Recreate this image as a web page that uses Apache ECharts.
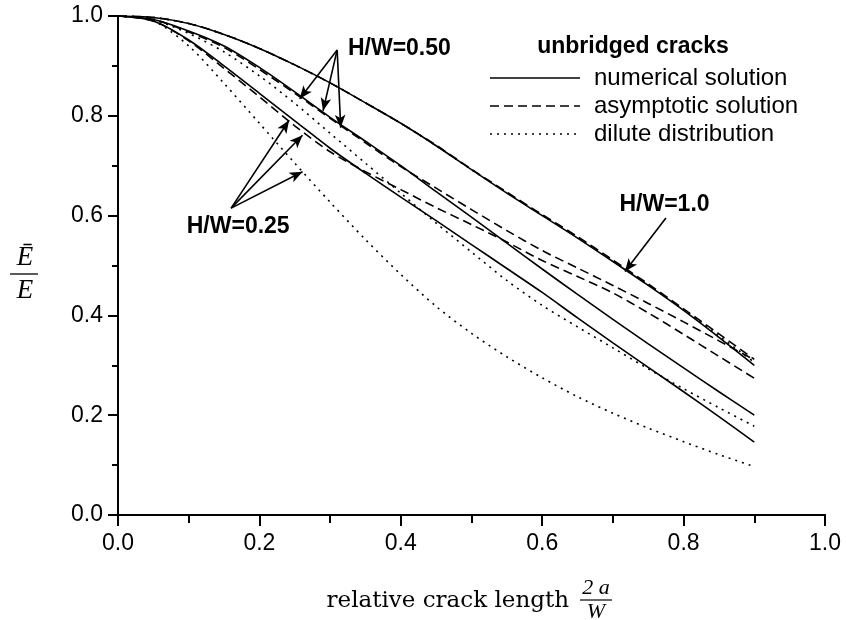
<!DOCTYPE html>
<html><head><meta charset="utf-8">
<script src="https://cdn.jsdelivr.net/npm/echarts@6/dist/echarts.min.js"></script>
<style>html,body{margin:0;padding:0;background:#fff}#c{width:846px;height:620px}</style>
</head><body><div id="c"></div>
<script>
// ---- data ----
const crackLength = [0,0.05,0.1,0.15,0.2,0.25,0.3,0.35,0.4,0.45,0.5,0.55,0.6,0.65,0.7,0.75,0.8,0.85,0.9];
// H/W = 1.0
const numerical100  = [1.0,0.997,0.985,0.963,0.935,0.902,0.866,0.826,0.785,0.740,0.692,0.645,0.600,0.555,0.508,0.460,0.410,0.356,0.300];
const asymptotic100 = [1.0,0.997,0.985,0.963,0.935,0.902,0.866,0.826,0.785,0.741,0.693,0.647,0.602,0.558,0.511,0.463,0.413,0.363,0.312];
const dilute100     = [1.0,0.997,0.985,0.963,0.935,0.902,0.866,0.826,0.785,0.740,0.692,0.646,0.601,0.556,0.509,0.461,0.411,0.359,0.306];
// H/W = 0.50
const numerical050  = [1.0,0.993,0.970,0.940,0.897,0.848,0.797,0.749,0.700,0.648,0.597,0.545,0.493,0.442,0.392,0.343,0.295,0.247,0.200];
const asymptotic050 = [1.0,0.993,0.968,0.937,0.893,0.845,0.795,0.746,0.698,0.655,0.612,0.570,0.530,0.495,0.460,0.424,0.387,0.349,0.311];
const dilute050     = [1.0,0.992,0.965,0.928,0.880,0.825,0.765,0.705,0.645,0.585,0.527,0.470,0.420,0.377,0.335,0.293,0.253,0.215,0.178];
// H/W = 0.25
const numerical025  = [1.0,0.990,0.952,0.900,0.845,0.790,0.735,0.685,0.637,0.590,0.542,0.494,0.446,0.395,0.345,0.296,0.247,0.197,0.146];
const asymptotic025 = [1.0,0.990,0.950,0.895,0.838,0.780,0.728,0.688,0.652,0.616,0.582,0.547,0.510,0.478,0.445,0.405,0.362,0.318,0.274];
const dilute025     = [1.0,0.990,0.940,0.865,0.785,0.705,0.627,0.552,0.482,0.418,0.364,0.317,0.275,0.237,0.204,0.174,0.147,0.121,0.097];

const xTickLabels = ['0.0','0.2','0.4','0.6','0.8','1.0'];
const yTickLabels = ['0.0','0.2','0.4','0.6','0.8','1.0'];
const legendTitle = 'unbridged cracks';
const legendLabels = ['numerical solution','asymptotic solution','dilute distribution'];
const groupLabels = ['H/W=0.50','H/W=0.25','H/W=1.0'];
const xTitle = 'relative crack length';
const xTitleFrac = ['2 a','W'];
const yTitleFrac = ['Ē','E'];
// label anchor points (data coords) and arrow start/tip (data coords)
const labelAnchors = [[0.398,0.934],[0.170,0.577],[0.773,0.621]];
const arrows = [
  [[0.310,0.932],[0.257,0.834]],
  [[0.310,0.932],[0.290,0.810]],
  [[0.310,0.932],[0.315,0.776]],
  [[0.160,0.615],[0.242,0.791]],
  [[0.160,0.615],[0.261,0.761]],
  [[0.160,0.615],[0.261,0.688]],
  [[0.775,0.595],[0.717,0.488]]
];

const SOLID = 'solid', DASH = [9,5], DOT = [2,5];
function mk(vals, type){
  return {type:'line', data: crackLength.map((x,i)=>[x, vals[i]]), showSymbol:false, smooth:0.3,
    lineStyle:{color:'#000', width:1.6, type:type}, silent:true, z:3};
}
const series = [
  mk(numerical100,SOLID), mk(asymptotic100,DASH), mk(dilute100,DOT),
  mk(numerical050,SOLID), mk(asymptotic050,DASH), mk(dilute050,DOT),
  mk(numerical025,SOLID), mk(asymptotic025,DASH), mk(dilute025,DOT),
  {type:'line', data:[], silent:true,
   markLine:{silent:true, symbol:['none','arrow'], symbolSize:[8,13], label:{show:false},
     lineStyle:{color:'#000', width:1.6, type:'solid'}, emphasis:{disabled:true},
     data: arrows.map(a=>[{coord:a[0]},{coord:a[1]}])}}
];

const fontSans = 'Liberation Sans, Arial, Helvetica, sans-serif';
const axisCommon = {min:0, max:1, axisLine:{show:true, lineStyle:{color:'#000', width:2}}, splitLine:{show:false}};
const chart = echarts.init(document.getElementById('c'), null, {renderer:'canvas'});
chart.setOption({
  animation:false,
  backgroundColor:'#fff',
  grid:{left:118, right:21, top:16, bottom:105, containLabel:false},
  xAxis:[
    Object.assign({type:'value', position:'bottom', interval:0.2,
      axisTick:{inside:false, length:11, lineStyle:{color:'#000', width:2}},
      minorTick:{show:true, splitNumber:2, length:6, lineStyle:{color:'#000', width:2}},
      axisLabel:{margin:17, fontSize:23, color:'#000', fontFamily:fontSans,
        formatter:(v)=>xTickLabels[Math.round(v/0.2)]}}, axisCommon),
    Object.assign({type:'value', position:'top', interval:0.1,
      axisTick:{inside:true, length:8, lineStyle:{color:'#000', width:2}},
      axisLabel:{show:false}}, axisCommon)
  ],
  yAxis:[
    Object.assign({type:'value', position:'left', interval:0.2,
      axisTick:{inside:false, length:10, lineStyle:{color:'#000', width:2}},
      minorTick:{show:true, splitNumber:2, length:5, lineStyle:{color:'#000', width:2}},
      axisLabel:{margin:15, fontSize:23, color:'#000', fontFamily:fontSans,
        formatter:(v)=>yTickLabels[Math.round(v/0.2)]}}, axisCommon),
    Object.assign({type:'value', position:'right', interval:0.1,
      axisTick:{inside:true, length:6, lineStyle:{color:'#000', width:2}},
      axisLabel:{show:false}}, axisCommon)
  ],
  series: series
});

// annotations placed through the chart's own coordinate conversion
const px = (p)=>chart.convertToPixel({gridIndex:0}, p);
const g = [];
groupLabels.forEach((t,i)=>{
  const p = px(labelAnchors[i]);
  g.push({type:'text', x:p[0], y:p[1], style:{text:t, fontSize:23, fontWeight:'bold', fill:'#000',
    fontFamily:fontSans, align:'center', verticalAlign:'middle'}, z:10});
});
// legend block
g.push({type:'text', x:633, y:47, style:{text:legendTitle, fontSize:23, fontWeight:'bold', fill:'#000',
  fontFamily:fontSans, align:'center', verticalAlign:'middle'}, z:10});
const legTypes = [SOLID, DASH, DOT];
const legY = [78, 106, 134];
legendLabels.forEach((t,i)=>{
  g.push({type:'line', shape:{x1:490, y1:legY[i], x2:580, y2:legY[i]},
    style:{stroke:'#000', lineWidth:1.6, lineDash: legTypes[i]==='solid'? null : legTypes[i]}, z:10});
  g.push({type:'text', x:594, y:legY[i], style:{text:t, fontSize:24, fill:'#000', fontFamily:fontSans,
    align:'left', verticalAlign:'middle'}, z:10});
});
// y-axis title: Ē / E
const serif = 'Liberation Serif, Times New Roman, serif';
g.push({type:'text', x:25, y:258, style:{text:yTitleFrac[0], fontSize:27, fontStyle:'italic', fill:'#000', fontFamily:serif, align:'center', verticalAlign:'middle'}});
g.push({type:'line', shape:{x1:10, y1:274, x2:38, y2:274}, style:{stroke:'#000', lineWidth:1.3}});
g.push({type:'text', x:25, y:291, style:{text:yTitleFrac[1], fontSize:27, fontStyle:'italic', fill:'#000', fontFamily:serif, align:'center', verticalAlign:'middle'}});
// x-axis title
g.push({type:'text', x:569, y:601, style:{text:xTitle, fontSize:23, fill:'#000', fontFamily:'DejaVu Serif, serif', align:'right', verticalAlign:'middle'}});
g.push({type:'text', x:596, y:588, style:{text:xTitleFrac[0], fontSize:22, fontStyle:'italic', fill:'#000', fontFamily:serif, align:'center', verticalAlign:'middle'}});
g.push({type:'line', shape:{x1:580, y1:600, x2:612, y2:600}, style:{stroke:'#000', lineWidth:1.2}});
g.push({type:'text', x:596, y:612, style:{text:xTitleFrac[1], fontSize:22, fontStyle:'italic', fill:'#000', fontFamily:serif, align:'center', verticalAlign:'middle'}});
chart.setOption({graphic:{elements:g}});
</script></body></html>
